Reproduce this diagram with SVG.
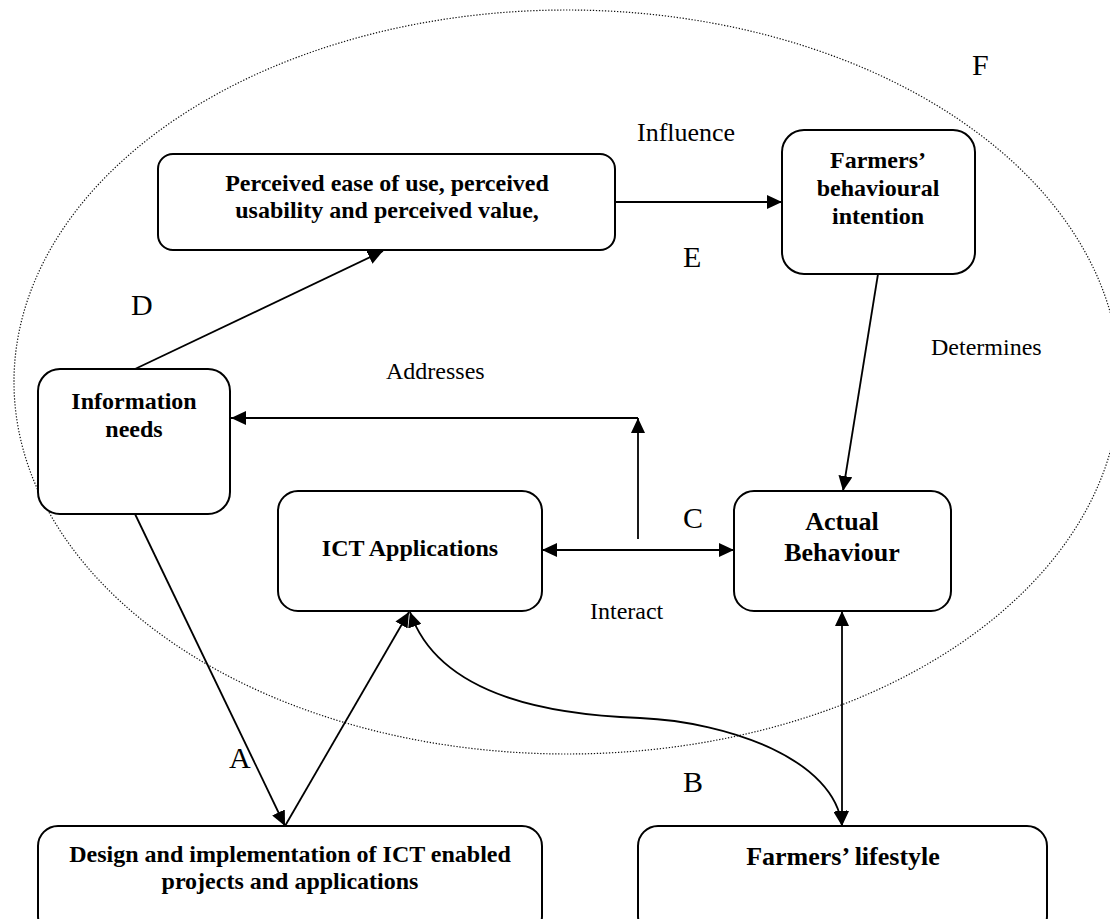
<svg xmlns="http://www.w3.org/2000/svg" width="1110" height="919" viewBox="0 0 1110 919">
<style>
.box{fill:#fff;stroke:#000;stroke-width:2}
.nt{font-family:"Liberation Serif","Times New Roman",serif;font-weight:bold;font-size:24px;fill:#000;text-anchor:middle}
.big{font-size:26px}
.lbl{font-family:"Liberation Serif","Times New Roman",serif;font-size:24px;fill:#000}
.let{font-family:"Liberation Serif","Times New Roman",serif;font-size:30px;fill:#000}
.con{fill:none;stroke:#000;stroke-width:1.8}
</style>
<defs>
<marker id="ah" markerUnits="userSpaceOnUse" markerWidth="16" markerHeight="14" refX="15" refY="7" orient="auto-start-reverse">
<path d="M0,0 L15,7 L0,14 z" fill="#000"/>
</marker>
</defs>
<rect width="1110" height="919" fill="#fff"/>
<ellipse id="boundary" cx="567" cy="382" rx="553" ry="372" fill="none" stroke="#111" stroke-width="1.2" stroke-dasharray="1.3 1.7"/>
<g id="connectors">
<line class="con" x1="615" y1="202" x2="782" y2="202" marker-end="url(#ah)"/>
<line class="con" x1="135" y1="369" x2="383" y2="251" marker-end="url(#ah)"/>
<line class="con" x1="135" y1="514" x2="285" y2="826" marker-end="url(#ah)"/>
<line class="con" x1="285" y1="826" x2="409" y2="612" marker-end="url(#ah)"/>
<path class="con" d="M410 612 C440 700 560 715 640 718 C730 722 835 760 842 826" marker-start="url(#ah)" marker-end="url(#ah)"/>
<line class="con" x1="542" y1="550" x2="734" y2="550" marker-start="url(#ah)" marker-end="url(#ah)"/>
<line class="con" x1="638" y1="539" x2="638" y2="418" marker-end="url(#ah)"/>
<line class="con" x1="638" y1="418" x2="231" y2="418" marker-end="url(#ah)"/>
<line class="con" x1="878" y1="274" x2="843" y2="491" marker-end="url(#ah)"/>
<line class="con" x1="842" y1="611" x2="842" y2="826" marker-start="url(#ah)" marker-end="url(#ah)"/>
</g>
<g id="perceived">
<rect class="box" x="158" y="154" width="457" height="96" rx="15"/>
<text class="nt" x="387" y="191">Perceived ease of use, perceived</text>
<text class="nt" x="387" y="218">usability and perceived value,</text>
</g>
<g id="intention">
<rect class="box" x="782" y="130" width="193" height="144" rx="22"/>
<text class="nt" x="878" y="168">Farmers’</text>
<text class="nt" x="878" y="196">behavioural</text>
<text class="nt" x="878" y="224">intention</text>
</g>
<g id="info-needs">
<rect class="box" x="38" y="369" width="192" height="145" rx="22"/>
<text class="nt" x="134" y="409">Information</text>
<text class="nt" x="134" y="437">needs</text>
</g>
<g id="ict">
<rect class="box" x="278" y="491" width="264" height="120" rx="20"/>
<text class="nt" x="410" y="556">ICT Applications</text>
</g>
<g id="actual">
<rect class="box" x="734" y="491" width="217" height="120" rx="20"/>
<text class="nt big" x="842" y="530">Actual</text>
<text class="nt big" x="842" y="561">Behaviour</text>
</g>
<g id="design">
<rect class="box" x="38" y="826" width="504" height="110" rx="20"/>
<text class="nt" x="290" y="862">Design and implementation of ICT enabled</text>
<text class="nt" x="290" y="889">projects and applications</text>
</g>
<g id="lifestyle">
<rect class="box" x="638" y="826" width="409" height="110" rx="20"/>
<text class="nt big" x="843" y="865">Farmers’ lifestyle</text>
</g>
<g id="labels">
<text class="lbl" x="637" y="141" style="font-size:26px">Influence</text>
<text class="lbl" x="386" y="379">Addresses</text>
<text class="lbl" x="931" y="355">Determines</text>
<text class="lbl" x="590" y="619">Interact</text>
<text class="let" x="972" y="75">F</text>
<text class="let" x="683" y="267">E</text>
<text class="let" x="131" y="315">D</text>
<text class="let" x="683" y="528">C</text>
<text class="let" x="683" y="792">B</text>
<text class="let" x="229" y="768">A</text>
</g>
</svg>
